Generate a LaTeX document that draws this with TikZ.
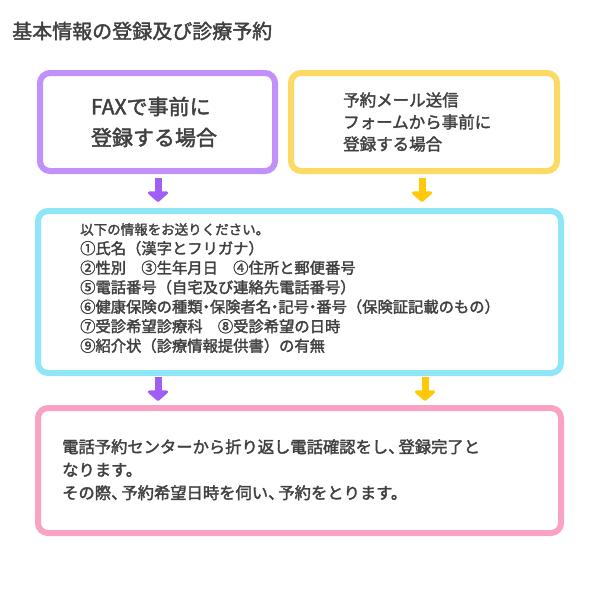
\documentclass[tikz,border=0pt]{standalone}
\usepackage{fontspec}
\setmainfont{Noto Sans CJK JP}[FakeBold=2]
\usetikzlibrary{arrows.meta}
\definecolor{cpur}{HTML}{C190F8}
\definecolor{cyel}{HTML}{FBDB63}
\definecolor{ccya}{HTML}{8FE6F8}
\definecolor{cpin}{HTML}{F8A3C3}
\definecolor{apur}{HTML}{A05EF2}
\definecolor{ayel}{HTML}{FFC808}
\definecolor{txt}{HTML}{404040}
\tikzset{
  box/.style={draw=#1, line width=6pt, rounded corners=10pt, fill=white},
  fatarrow/.style={draw=#1, line width=7pt, -{Triangle[width=24pt,length=11pt,round]}},
  txtnode/.style={text=txt, align=left, inner sep=0pt}
}
\begin{document}
\begin{tikzpicture}[x=1pt,y=-1pt]
\useasboundingbox (0,0) rectangle (600,600);
\node[txtnode, anchor=west, font=\fontsize{20}{22}\selectfont] (title) at (12,31) {基本情報の登録及び診療予約};
\draw[box=cpur] (40,73) rectangle (275,171);
\draw[box=cyel] (291,73) rectangle (557,171);
\draw[box=ccya] (38,211) rectangle (561,373);
\draw[box=cpin] (38,408) rectangle (561,533);
\node[txtnode, anchor=center, align=left, font=\fontsize{21}{31}\selectfont] (fax) at (154,122) {FAXで事前に\\登録する場合};
\node[txtnode, anchor=west, font=\fontsize{16.5}{22}\selectfont] (mail) at (343,122) {予約メール送信\\フォームから事前に\\登録する場合};
\node[txtnode, anchor=north west, font=\fontsize{15.3}{19.5}\selectfont] (info) at (80,223) {\fontsize{13.5}{19.5}\selectfont 以下の情報をお送りください。\\
①氏名（漢字とフリガナ）\\
②性別　③生年月日　④住所と郵便番号\\
⑤電話番号（自宅及び連絡先電話番号）\\
⑥健康保険の種類\kern-4pt・\kern-4pt保険者名\kern-4pt・\kern-4pt記号\kern-4pt・\kern-4pt番号（保険証記載のもの）\\
⑦受診希望診療科　⑧受診希望の日時\\
⑨紹介状（診療情報提供書）の有無};
\node[txtnode, anchor=north west, font=\fontsize{16.3}{23}\selectfont] (res) at (62,439) {電話予約センターから折り返し電話確認をし、\kern-6pt登録完了と\\なります。\\その際、\kern-6pt予約希望日時を伺い、\kern-6pt予約をとります。};
\coordinate (a1s) at (158,178); \coordinate (a1e) at (158,202);
\coordinate (a2s) at (422,178); \coordinate (a2e) at (422,202);
\coordinate (a3s) at (158,377); \coordinate (a3e) at (158,401);
\coordinate (a4s) at (425,377); \coordinate (a4e) at (425,401);
\draw[fatarrow=apur] (a1s) -- (a1e);
\draw[fatarrow=ayel] (a2s) -- (a2e);
\draw[fatarrow=apur] (a3s) -- (a3e);
\draw[fatarrow=ayel] (a4s) -- (a4e);
\end{tikzpicture}
\end{document}
